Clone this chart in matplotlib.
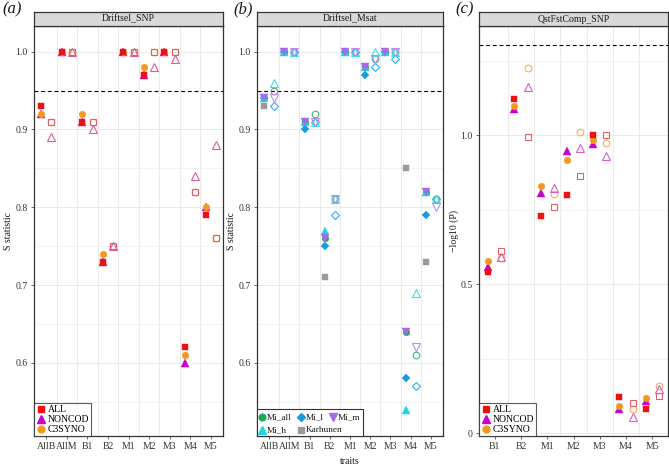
import matplotlib
matplotlib.use("Agg")
import matplotlib.pyplot as plt
from matplotlib.lines import Line2D
from matplotlib.patches import Rectangle
import numpy as np

plt.rcParams['font.family'] = ['Liberation Serif', 'DejaVu Serif']

# ---------------- data ----------------
cats_ab = ['AllB', 'AllM', 'B1', 'B2', 'M1', 'M2', 'M3', 'M4', 'M5']
cats_c = ['B1', 'B2', 'M1', 'M2', 'M3', 'M4', 'M5']

# panel (a) Driftsel_SNP  (filled = left, open = right)
a_all_f = [0.93, 1.00, 0.91, 0.73, 1.00, 0.97, 1.00, 0.62, 0.79]
a_noncod_f = [0.92, 1.00, 0.91, 0.73, 1.00, 0.97, 1.00, 0.60, 0.80]
a_c3syno_f = [0.92, 1.00, 0.92, 0.74, 1.00, 0.98, 1.00, 0.61, 0.80]
a_all_o = [0.91, 1.00, 0.91, 0.75, 1.00, 1.00, 1.00, 0.82, 0.76]
a_noncod_o = [0.89, 1.00, 0.90, 0.75, 1.00, 0.98, 0.99, 0.84, 0.88]
a_c3syno_o = [0.91, 1.00, 0.91, 0.75, 1.00, 1.00, 1.00, 0.82, 0.76]

# panel (b) Driftsel_Msat
b_miall_f = [0.94, 1.00, 0.91, 0.76, 1.00, 0.98, 1.00, 0.64, 0.82]
b_mil_f = [0.94, 1.00, 0.90, 0.75, 1.00, 0.97, 1.00, 0.58, 0.79]
b_mim_f = [0.94, 1.00, 0.91, 0.76, 1.00, 0.98, 1.00, 0.64, 0.82]
b_mih_f = [0.94, 1.00, 0.91, 0.77, 1.00, 0.98, 1.00, 0.54, 0.82]
b_karh_f = [0.93, 1.00, 0.91, 0.71, 1.00, 0.98, 1.00, 0.85, 0.73]
b_miall_o = [0.95, 1.00, 0.92, 0.81, 1.00, 0.99, 1.00, 0.61, 0.81]
b_mil_o = [0.93, 1.00, 0.91, 0.79, 1.00, 0.98, 0.99, 0.57, 0.81]
b_mim_o = [0.94, 1.00, 0.91, 0.81, 1.00, 0.99, 1.00, 0.62, 0.80]
b_mih_o = [0.96, 1.00, 0.91, 0.81, 1.00, 1.00, 1.00, 0.69, 0.81]

# panel (c) QstFstComp_SNP, -log10(P)
c_all_f = [0.54, 1.12, 0.73, 0.80, 1.00, 0.12, 0.08]
c_noncod_f = [0.556, 1.087, 0.804, 0.947, 0.969, 0.081, 0.108]
c_c3syno_f = [0.578, 1.098, 0.830, 0.915, 0.983, 0.092, 0.118]
c_all_o = [0.612, 0.992, 0.759, 0.862, 1.00, 0.10, 0.125]
c_noncod_o = [0.592, 1.16, 0.821, 0.955, 0.931, 0.053, 0.148]
c_c3syno_o = [0.586, 1.224, 0.802, 1.01, 0.975, 0.081, 0.159]

# ---------------- styling ----------------
RED, MAG, ORA = '#EE1111', '#CC00CC', '#F39A1E'
RED_O, MAG_O, ORA_O = '#E2606C', '#D65CD0', '#F4AE5A'
MAG_O_A = '#DE5C96'
GRN, BLU, PUR, CYA, GRY = '#1BAA5A', '#1A9AE0', '#A86BE6', '#1ED6E0', '#9A9A9A'
GRN_O, BLU_O, PUR_O, CYA_O = '#3CB870', '#3AA8EA', '#C08CF0', '#40DCE6'
GRID = '#EBEBEB'
DODGE = 0.25
MS_S, MS_T, MS_C, MS_D = 4.4, 5.2, 4.8, 4.1

W, H = 669, 467
fig = plt.figure(figsize=(W / 100, H / 100), dpi=100)


def px_axes(x0, x1, y0, y1):
    return fig.add_axes([x0 / W, 1 - y1 / H, (x1 - x0) / W, (y1 - y0) / H])


def style(ax, ncat, ylim, yticks, yminor, ylabels):
    ax.set_xlim(-0.6, ncat - 1 + 0.6)
    ax.set_ylim(*ylim)
    ax.set_facecolor('white')
    for v in np.arange(ncat - 1) + 0.5:
        ax.axvline(v, color=GRID, lw=0.7, zorder=0)
    for v in yticks:
        ax.axhline(v, color=GRID, lw=0.7, zorder=0)
    for v in yminor:
        ax.axhline(v, color=GRID, lw=0.4, zorder=0)
    ax.set_yticks(yticks)
    ax.set_yticklabels(ylabels)
    for s in ax.spines.values():
        s.set_color('#333333')
        s.set_linewidth(0.9)
    ax.tick_params(axis='both', length=2.5, width=0.6, color='#555555',
                   labelsize=7, labelcolor='#333333', pad=2)


def strip(x0, x1, title):
    s = px_axes(x0, x1, 12, 26)
    s.set_facecolor('#D9D9D9')
    s.set_xticks([]); s.set_yticks([])
    for sp in s.spines.values():
        sp.set_color('#333333'); sp.set_linewidth(0.9)
    s.text(0.5, 0.5, title, ha='center', va='center', fontsize=7, color='#1A1A1A',
           transform=s.transAxes)


def pts(ax, vals, off, marker, color, filled, ms, z):
    x = np.arange(len(vals)) + off
    if filled:
        ax.plot(x, vals, ls='none', marker=marker, ms=ms, mfc=color, mec=color,
                mew=0.3, zorder=z)
    else:
        ax.plot(x, vals, ls='none', marker=marker, ms=ms, mfc='none', mec=color,
                mew=0.8, zorder=z)


def fig_marker(x, y, m, c, ms):
    fig.add_artist(Line2D([x / W], [1 - y / H], ls='none', marker=m, ms=ms,
                          mfc=c, mec=c, transform=fig.transFigure, zorder=7))


def fig_text(x, y, s):
    fig.text(x / W, 1 - y / H, s, ha='left', va='center', fontsize=6.7, color='#1A1A1A',
             zorder=7)


def std_legend(ax):
    h = [Line2D([], [], ls='none', marker='s', ms=MS_S + 0.4, color=RED),
         Line2D([], [], ls='none', marker='^', ms=MS_T + 0.3, color=MAG),
         Line2D([], [], ls='none', marker='o', ms=MS_C + 0.2, color=ORA)]
    leg = ax.legend(h, ['ALL', 'NONCOD', 'C3SYNO'], loc='lower left', fontsize=7,
                    borderaxespad=0, frameon=True, fancybox=False, handlelength=1.0,
                    handletextpad=0.2, labelspacing=0.1, borderpad=0.2)
    leg.get_frame().set_edgecolor('#333333'); leg.get_frame().set_linewidth(0.8)


# ---------------- panel (a) ----------------
ax_a = px_axes(34, 223, 26, 436)
style(ax_a, 9, (0.506, 1.033), [0.6, 0.7, 0.8, 0.9, 1.0], [0.55, 0.65, 0.75, 0.85, 0.95],
      ['0.6', '0.7', '0.8', '0.9', '1.0'])
ax_a.set_xticks(np.arange(len(cats_ab)))
ax_a.set_xticklabels(cats_ab)
ax_a.axhline(0.95, color='black', lw=0.8, ls=(0, (3.5, 2.5)), zorder=1)
pts(ax_a, a_c3syno_o, DODGE, 'o', ORA_O, False, MS_C, 3)
pts(ax_a, a_noncod_o, DODGE, '^', MAG_O_A, False, MS_T, 3)
pts(ax_a, a_all_o, DODGE, 's', RED_O, False, MS_S, 3)
pts(ax_a, a_noncod_f, -DODGE, '^', MAG, True, MS_T, 4)
pts(ax_a, a_c3syno_f, -DODGE, 'o', ORA, True, MS_C, 4)
pts(ax_a, a_all_f, -DODGE, 's', RED, True, MS_S, 4)
ax_a.set_ylabel('S statistic', fontsize=7, labelpad=1.5, color='#1A1A1A')
strip(34, 223, 'Driftsel_SNP')
std_legend(ax_a)

# ---------------- panel (b) ----------------
ax_b = px_axes(257, 443, 26, 436)
style(ax_b, 9, (0.506, 1.033), [0.6, 0.7, 0.8, 0.9, 1.0], [0.55, 0.65, 0.75, 0.85, 0.95],
      ['0.6', '0.7', '0.8', '0.9', '1.0'])
ax_b.set_xticks(np.arange(len(cats_ab)))
ax_b.set_xticklabels(cats_ab)
ax_b.axhline(0.95, color='black', lw=0.8, ls=(0, (3.5, 2.5)), zorder=1)
pts(ax_b, b_miall_o, DODGE, 'o', GRN_O, False, MS_C, 3)
pts(ax_b, b_mil_o, DODGE, 'D', BLU_O, False, MS_D, 3)
pts(ax_b, b_mih_o, DODGE, '^', CYA_O, False, MS_T, 3)
pts(ax_b, b_mim_o, DODGE, 'v', PUR_O, False, MS_T, 3)
pts(ax_b, b_karh_f, -DODGE, 's', GRY, True, MS_S, 4)
pts(ax_b, b_miall_f, -DODGE, 'o', GRN, True, MS_C, 4)
pts(ax_b, b_mil_f, -DODGE, 'D', BLU, True, MS_D, 4)
pts(ax_b, b_mih_f, -DODGE, '^', CYA, True, MS_T, 4)
pts(ax_b, b_mim_f, -DODGE, 'v', PUR, True, MS_T, 4)
ax_b.set_ylabel('S statistic', fontsize=7, labelpad=1.5, color='#1A1A1A')
ax_b.set_xlabel('traits', fontsize=7, labelpad=4, color='#1A1A1A')
strip(257, 443, 'Driftsel_Msat')
# legend for panel (b): two rows, ggplot-style
fig.add_artist(Rectangle((257 / W, 1 - 436 / H), 106 / W, 27 / H, transform=fig.transFigure,
                         facecolor='white', edgecolor='#333333', lw=0.8, zorder=5))
for (x, y, m, c, ms, lab) in [(262, 417, 'o', GRN, MS_C, 'Mi_all'),
                              (301, 417, 'D', BLU, MS_D, 'Mi_l'),
                              (333, 417, 'v', PUR, MS_T + 0.3, 'Mi_m'),
                              (262, 430, '^', CYA, MS_T + 0.3, 'Mi_h'),
                              (301, 430, 's', GRY, MS_S, 'Karhunen')]:
    fig_marker(x, y, m, c, ms)
    fig_text(x + 4.5, y, lab)

# ---------------- panel (c) ----------------
ax_c = px_axes(479, 668, 26, 436)
style(ax_c, 7, (-0.01, 1.366), [0.0, 0.5, 1.0], [0.25, 0.75, 1.25], ['0', '0.5', '1.0'])
ax_c.set_xticks(np.arange(len(cats_c)))
ax_c.set_xticklabels(cats_c)
ax_c.axhline(-np.log10(0.05), color='black', lw=0.8, ls=(0, (3.5, 2.5)), zorder=1)
pts(ax_c, c_c3syno_o, DODGE, 'o', ORA_O, False, MS_C, 3)
pts(ax_c, c_noncod_o, DODGE, '^', MAG_O, False, MS_T, 3)
pts(ax_c, c_all_o, DODGE, 's', RED_O, False, MS_S, 3)
pts(ax_c, c_noncod_f, -DODGE, '^', MAG, True, MS_T, 4)
pts(ax_c, c_c3syno_f, -DODGE, 'o', ORA, True, MS_C, 4)
pts(ax_c, c_all_f, -DODGE, 's', RED, True, MS_S, 4)
ax_c.set_ylabel('\u2212log10 (P)', fontsize=7, labelpad=1.0, color='#1A1A1A')
strip(479, 668, 'QstFstComp_SNP')
std_legend(ax_c)

# panel letters
for x, lab in [(12, '(a)'), (243, '(b)'), (465, '(c)')]:
    fig.text(x / W, 1 - 9 / H, lab, ha='center', va='center', fontsize=12,
             style='italic', color='#1A1A1A')

fig.savefig('out.png', dpi=100)
